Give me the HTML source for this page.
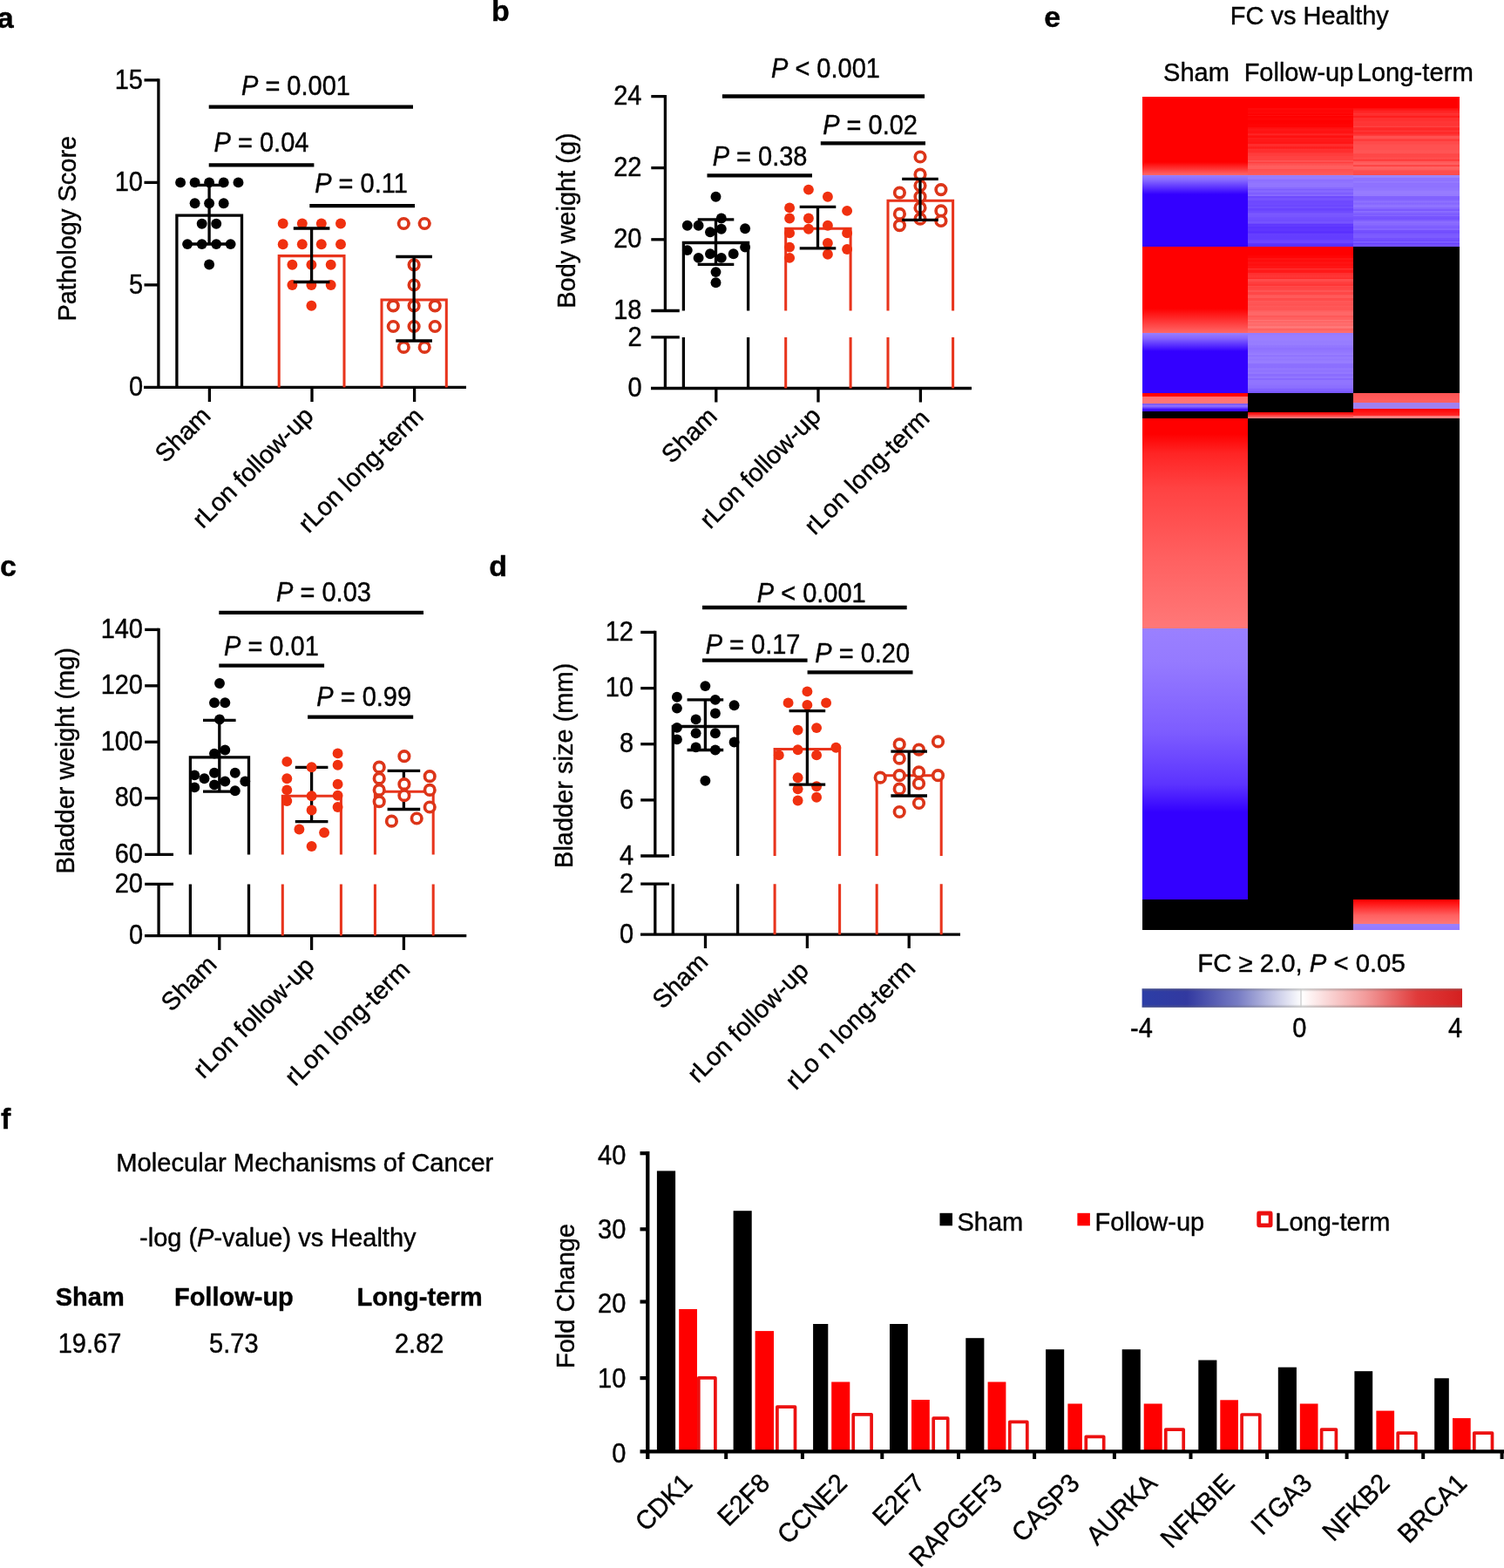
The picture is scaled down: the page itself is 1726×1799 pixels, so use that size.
<!DOCTYPE html>
<html lang="en">
<head>
<meta charset="utf-8">
<title>Figure</title>
<style>
html,body{margin:0;padding:0;background:#fff;}
body{width:1726px;height:1799px;overflow:hidden;}
svg{display:block;font-family:"Liberation Sans",sans-serif;fill:#000;}
text{stroke:#000;stroke-width:0.4px;stroke-linejoin:round;}
</style>
</head>
<body>
<svg width="1726" height="1799" viewBox="0 0 1726 1799">
<rect x="0" y="0" width="1726" height="1799" fill="#ffffff"/>
<text x="-3.3" y="32.0" font-size="34" text-anchor="start" font-weight="bold">a</text>
<text x="564.0" y="23.8" font-size="34" text-anchor="start" font-weight="bold">b</text>
<text x="0.0" y="660.8" font-size="34" text-anchor="start" font-weight="bold">c</text>
<text x="561.2" y="660.6" font-size="34" text-anchor="start" font-weight="bold">d</text>
<text x="1198.2" y="30.5" font-size="34" text-anchor="start" font-weight="bold">e</text>
<text x="1.0" y="1295.2" font-size="34" text-anchor="start" font-weight="bold">f</text>
<line x1="181.9" y1="90.2" x2="181.9" y2="444.4" stroke="#000" stroke-width="3.3" stroke-linecap="butt"/>
<line x1="165.0" y1="444.4" x2="535.0" y2="444.4" stroke="#000" stroke-width="3.3" stroke-linecap="butt"/>
<line x1="165.5" y1="91.9" x2="181.9" y2="91.9" stroke="#000" stroke-width="3.3" stroke-linecap="butt"/>
<text transform="translate(164.0 101.5) scale(1 1.05)" font-size="29" text-anchor="end">15</text>
<line x1="165.5" y1="209.4" x2="181.9" y2="209.4" stroke="#000" stroke-width="3.3" stroke-linecap="butt"/>
<text transform="translate(164.0 219.0) scale(1 1.05)" font-size="29" text-anchor="end">10</text>
<line x1="165.5" y1="326.9" x2="181.9" y2="326.9" stroke="#000" stroke-width="3.3" stroke-linecap="butt"/>
<text transform="translate(164.0 336.5) scale(1 1.05)" font-size="29" text-anchor="end">5</text>
<text transform="translate(164.0 454.0) scale(1 1.05)" font-size="29" text-anchor="end">0</text>
<line x1="240.4" y1="444.4" x2="240.4" y2="461.0" stroke="#000" stroke-width="3.3" stroke-linecap="butt"/>
<line x1="358.0" y1="444.4" x2="358.0" y2="461.0" stroke="#000" stroke-width="3.3" stroke-linecap="butt"/>
<line x1="475.6" y1="444.4" x2="475.6" y2="461.0" stroke="#000" stroke-width="3.3" stroke-linecap="butt"/>
<text x="87.4" y="262.2" font-size="29" text-anchor="middle" transform="rotate(-90 87.4 262.2)">Pathology Score</text>
<path d="M202.9,444.4 V247.2 H277.5 V444.4" fill="none" stroke="#000" stroke-width="3.3" stroke-linejoin="miter"/>
<path d="M320.2,444.4 V293.6 H395.0 V444.4" fill="none" stroke="#e8341c" stroke-width="3.05" stroke-linejoin="miter"/>
<path d="M438.0,444.4 V343.9 H512.3 V444.4" fill="none" stroke="#e8341c" stroke-width="3.05" stroke-linejoin="miter"/>
<circle cx="207.1" cy="209.4" r="5.95" fill="#000"/>
<circle cx="223.6" cy="209.4" r="5.95" fill="#000"/>
<circle cx="240.1" cy="209.4" r="5.95" fill="#000"/>
<circle cx="256.7" cy="209.4" r="5.95" fill="#000"/>
<circle cx="273.5" cy="209.4" r="5.95" fill="#000"/>
<circle cx="223.6" cy="233.3" r="5.95" fill="#000"/>
<circle cx="240.1" cy="233.3" r="5.95" fill="#000"/>
<circle cx="256.7" cy="233.3" r="5.95" fill="#000"/>
<circle cx="231.7" cy="256.7" r="5.95" fill="#000"/>
<circle cx="248.2" cy="256.7" r="5.95" fill="#000"/>
<circle cx="215.1" cy="280.1" r="5.95" fill="#000"/>
<circle cx="231.7" cy="280.1" r="5.95" fill="#000"/>
<circle cx="248.2" cy="280.1" r="5.95" fill="#000"/>
<circle cx="264.6" cy="280.1" r="5.95" fill="#000"/>
<circle cx="240.1" cy="303.5" r="5.95" fill="#000"/>
<circle cx="324.7" cy="256.5" r="5.95" fill="#f0300f"/>
<circle cx="346.8" cy="256.5" r="5.95" fill="#f0300f"/>
<circle cx="368.8" cy="256.5" r="5.95" fill="#f0300f"/>
<circle cx="391.0" cy="256.5" r="5.95" fill="#f0300f"/>
<circle cx="324.7" cy="280.2" r="5.95" fill="#f0300f"/>
<circle cx="346.8" cy="280.2" r="5.95" fill="#f0300f"/>
<circle cx="368.8" cy="280.2" r="5.95" fill="#f0300f"/>
<circle cx="391.0" cy="280.2" r="5.95" fill="#f0300f"/>
<circle cx="335.4" cy="303.8" r="5.95" fill="#f0300f"/>
<circle cx="357.4" cy="303.8" r="5.95" fill="#f0300f"/>
<circle cx="379.7" cy="303.8" r="5.95" fill="#f0300f"/>
<circle cx="335.4" cy="327.0" r="5.95" fill="#f0300f"/>
<circle cx="357.4" cy="327.0" r="5.95" fill="#f0300f"/>
<circle cx="379.7" cy="327.0" r="5.95" fill="#f0300f"/>
<circle cx="357.4" cy="350.8" r="5.95" fill="#f0300f"/>
<circle cx="463.3" cy="256.5" r="5.75" fill="#fff" stroke="#dc3519" stroke-width="3.7"/>
<circle cx="487.2" cy="256.5" r="5.75" fill="#fff" stroke="#dc3519" stroke-width="3.7"/>
<circle cx="475.1" cy="303.8" r="5.75" fill="#fff" stroke="#dc3519" stroke-width="3.7"/>
<circle cx="475.1" cy="327.0" r="5.75" fill="#fff" stroke="#dc3519" stroke-width="3.7"/>
<circle cx="451.3" cy="350.8" r="5.75" fill="#fff" stroke="#dc3519" stroke-width="3.7"/>
<circle cx="475.1" cy="350.8" r="5.75" fill="#fff" stroke="#dc3519" stroke-width="3.7"/>
<circle cx="499.2" cy="350.8" r="5.75" fill="#fff" stroke="#dc3519" stroke-width="3.7"/>
<circle cx="451.3" cy="374.5" r="5.75" fill="#fff" stroke="#dc3519" stroke-width="3.7"/>
<circle cx="475.1" cy="374.5" r="5.75" fill="#fff" stroke="#dc3519" stroke-width="3.7"/>
<circle cx="499.2" cy="374.5" r="5.75" fill="#fff" stroke="#dc3519" stroke-width="3.7"/>
<circle cx="463.3" cy="398.4" r="5.75" fill="#fff" stroke="#dc3519" stroke-width="3.7"/>
<circle cx="487.2" cy="398.4" r="5.75" fill="#fff" stroke="#dc3519" stroke-width="3.7"/>
<line x1="240.1" y1="212.4" x2="240.1" y2="280.0" stroke="#000" stroke-width="3.3" stroke-linecap="butt"/>
<line x1="219.3" y1="212.4" x2="260.9" y2="212.4" stroke="#000" stroke-width="3.3" stroke-linecap="butt"/>
<line x1="219.3" y1="280.0" x2="260.9" y2="280.0" stroke="#000" stroke-width="3.3" stroke-linecap="butt"/>
<line x1="357.6" y1="262.0" x2="357.6" y2="323.5" stroke="#000" stroke-width="3.3" stroke-linecap="butt"/>
<line x1="336.8" y1="262.0" x2="378.4" y2="262.0" stroke="#000" stroke-width="3.3" stroke-linecap="butt"/>
<line x1="336.8" y1="323.5" x2="378.4" y2="323.5" stroke="#000" stroke-width="3.3" stroke-linecap="butt"/>
<line x1="475.1" y1="294.5" x2="475.1" y2="391.0" stroke="#000" stroke-width="3.3" stroke-linecap="butt"/>
<line x1="454.3" y1="294.5" x2="495.9" y2="294.5" stroke="#000" stroke-width="3.3" stroke-linecap="butt"/>
<line x1="454.3" y1="391.0" x2="495.9" y2="391.0" stroke="#000" stroke-width="3.3" stroke-linecap="butt"/>
<line x1="239.7" y1="122.6" x2="474.0" y2="122.6" stroke="#000" stroke-width="4.3" stroke-linecap="butt"/>
<line x1="239.7" y1="189.3" x2="360.4" y2="189.3" stroke="#000" stroke-width="4.3" stroke-linecap="butt"/>
<line x1="355.3" y1="236.1" x2="476.0" y2="236.1" stroke="#000" stroke-width="4.3" stroke-linecap="butt"/>
<text transform="translate(277.0 109.0) scale(1 1.05)" font-size="29" text-anchor="start"><tspan font-style="italic">P</tspan> = 0.001</text>
<text transform="translate(245.6 174.0) scale(1 1.05)" font-size="29" text-anchor="start"><tspan font-style="italic">P</tspan> = 0.04</text>
<text transform="translate(361.2 221.0) scale(1 1.05)" font-size="29" text-anchor="start"><tspan font-style="italic">P</tspan> = 0.11</text>
<text x="243.4" y="478.6" font-size="29" text-anchor="end" transform="rotate(-45 243.4 478.6)">Sham</text>
<text x="361.5" y="478.8" font-size="29" text-anchor="end" transform="rotate(-45 361.5 478.8)">rLon follow-up</text>
<text x="487.6" y="479.3" font-size="29" text-anchor="end" transform="rotate(-45 487.6 479.3)">rLon long-term</text>
<line x1="763.4" y1="108.9" x2="763.4" y2="356.5" stroke="#000" stroke-width="3.3" stroke-linecap="butt"/>
<line x1="763.4" y1="386.9" x2="763.4" y2="445.5" stroke="#000" stroke-width="3.3" stroke-linecap="butt"/>
<line x1="747.0" y1="445.5" x2="1115.0" y2="445.5" stroke="#000" stroke-width="3.3" stroke-linecap="butt"/>
<line x1="747.3" y1="110.6" x2="763.4" y2="110.6" stroke="#000" stroke-width="3.3" stroke-linecap="butt"/>
<line x1="747.3" y1="192.6" x2="763.4" y2="192.6" stroke="#000" stroke-width="3.3" stroke-linecap="butt"/>
<line x1="747.3" y1="274.8" x2="763.4" y2="274.8" stroke="#000" stroke-width="3.3" stroke-linecap="butt"/>
<line x1="747.3" y1="356.5" x2="779.8" y2="356.5" stroke="#000" stroke-width="3.3" stroke-linecap="butt"/>
<line x1="747.3" y1="386.9" x2="779.8" y2="386.9" stroke="#000" stroke-width="3.3" stroke-linecap="butt"/>
<text transform="translate(736.5 120.2) scale(1 1.05)" font-size="29" text-anchor="end">24</text>
<text transform="translate(736.5 202.2) scale(1 1.05)" font-size="29" text-anchor="end">22</text>
<text transform="translate(736.5 284.4) scale(1 1.05)" font-size="29" text-anchor="end">20</text>
<text transform="translate(736.5 366.1) scale(1 1.05)" font-size="29" text-anchor="end">18</text>
<text transform="translate(736.5 396.5) scale(1 1.05)" font-size="29" text-anchor="end">2</text>
<text transform="translate(736.5 455.1) scale(1 1.05)" font-size="29" text-anchor="end">0</text>
<line x1="821.8" y1="445.5" x2="821.8" y2="461.5" stroke="#000" stroke-width="3.3" stroke-linecap="butt"/>
<line x1="939.0" y1="445.5" x2="939.0" y2="461.5" stroke="#000" stroke-width="3.3" stroke-linecap="butt"/>
<line x1="1056.4" y1="445.5" x2="1056.4" y2="461.5" stroke="#000" stroke-width="3.3" stroke-linecap="butt"/>
<text x="659.5" y="253.0" font-size="29" text-anchor="middle" transform="rotate(-90 659.5 253.0)">Body weight (g)</text>
<path d="M784.4,356.5 V278.5 H858.6 V356.5 M784.4,386.9 V445.5 M858.6,386.9 V445.5" fill="none" stroke="#000" stroke-width="3.3" stroke-linejoin="miter"/>
<path d="M901.7,356.5 V262.3 H976.1 V356.5 M901.7,386.9 V445.5 M976.1,386.9 V445.5" fill="none" stroke="#e8341c" stroke-width="3.05" stroke-linejoin="miter"/>
<path d="M1019.0,356.5 V230.3 H1093.6 V356.5 M1019.0,386.9 V445.5 M1093.6,386.9 V445.5" fill="none" stroke="#e8341c" stroke-width="3.05" stroke-linejoin="miter"/>
<circle cx="821.5" cy="225.7" r="5.95" fill="#000"/>
<circle cx="827.8" cy="250.5" r="5.95" fill="#000"/>
<circle cx="788.8" cy="258.8" r="5.95" fill="#000"/>
<circle cx="801.6" cy="258.8" r="5.95" fill="#000"/>
<circle cx="855.1" cy="262.3" r="5.95" fill="#000"/>
<circle cx="815.0" cy="266.3" r="5.95" fill="#000"/>
<circle cx="827.8" cy="262.8" r="5.95" fill="#000"/>
<circle cx="855.1" cy="283.6" r="5.95" fill="#000"/>
<circle cx="788.8" cy="287.1" r="5.95" fill="#000"/>
<circle cx="815.0" cy="291.3" r="5.95" fill="#000"/>
<circle cx="841.7" cy="291.3" r="5.95" fill="#000"/>
<circle cx="801.6" cy="295.9" r="5.95" fill="#000"/>
<circle cx="827.8" cy="295.9" r="5.95" fill="#000"/>
<circle cx="821.5" cy="312.1" r="5.95" fill="#000"/>
<circle cx="821.5" cy="324.2" r="5.95" fill="#000"/>
<circle cx="927.9" cy="217.6" r="5.95" fill="#f0300f"/>
<circle cx="949.9" cy="225.7" r="5.95" fill="#f0300f"/>
<circle cx="906.1" cy="238.4" r="5.95" fill="#f0300f"/>
<circle cx="972.1" cy="241.9" r="5.95" fill="#f0300f"/>
<circle cx="906.1" cy="250.5" r="5.95" fill="#f0300f"/>
<circle cx="927.9" cy="250.5" r="5.95" fill="#f0300f"/>
<circle cx="949.9" cy="258.8" r="5.95" fill="#f0300f"/>
<circle cx="927.9" cy="262.8" r="5.95" fill="#f0300f"/>
<circle cx="906.1" cy="267.4" r="5.95" fill="#f0300f"/>
<circle cx="972.1" cy="267.4" r="5.95" fill="#f0300f"/>
<circle cx="949.9" cy="279.0" r="5.95" fill="#f0300f"/>
<circle cx="906.1" cy="283.6" r="5.95" fill="#f0300f"/>
<circle cx="972.1" cy="286.0" r="5.95" fill="#f0300f"/>
<circle cx="949.9" cy="291.7" r="5.95" fill="#f0300f"/>
<circle cx="906.1" cy="295.9" r="5.95" fill="#f0300f"/>
<circle cx="1056.0" cy="180.0" r="5.75" fill="#fff" stroke="#dc3519" stroke-width="3.7"/>
<circle cx="1056.0" cy="200.2" r="5.75" fill="#fff" stroke="#dc3519" stroke-width="3.7"/>
<circle cx="1032.4" cy="221.1" r="5.75" fill="#fff" stroke="#dc3519" stroke-width="3.7"/>
<circle cx="1079.9" cy="217.6" r="5.75" fill="#fff" stroke="#dc3519" stroke-width="3.7"/>
<circle cx="1056.0" cy="213.0" r="5.75" fill="#fff" stroke="#dc3519" stroke-width="3.7"/>
<circle cx="1056.0" cy="225.7" r="5.75" fill="#fff" stroke="#dc3519" stroke-width="3.7"/>
<circle cx="1056.0" cy="238.4" r="5.75" fill="#fff" stroke="#dc3519" stroke-width="3.7"/>
<circle cx="1032.4" cy="245.4" r="5.75" fill="#fff" stroke="#dc3519" stroke-width="3.7"/>
<circle cx="1079.9" cy="241.9" r="5.75" fill="#fff" stroke="#dc3519" stroke-width="3.7"/>
<circle cx="1056.0" cy="251.2" r="5.75" fill="#fff" stroke="#dc3519" stroke-width="3.7"/>
<circle cx="1079.9" cy="253.5" r="5.75" fill="#fff" stroke="#dc3519" stroke-width="3.7"/>
<circle cx="1032.4" cy="258.6" r="5.75" fill="#fff" stroke="#dc3519" stroke-width="3.7"/>
<line x1="821.5" y1="251.9" x2="821.5" y2="303.3" stroke="#000" stroke-width="3.3" stroke-linecap="butt"/>
<line x1="800.7" y1="251.9" x2="842.3" y2="251.9" stroke="#000" stroke-width="3.3" stroke-linecap="butt"/>
<line x1="800.7" y1="303.3" x2="842.3" y2="303.3" stroke="#000" stroke-width="3.3" stroke-linecap="butt"/>
<line x1="938.5" y1="237.3" x2="938.5" y2="284.8" stroke="#000" stroke-width="3.3" stroke-linecap="butt"/>
<line x1="917.7" y1="237.3" x2="959.3" y2="237.3" stroke="#000" stroke-width="3.3" stroke-linecap="butt"/>
<line x1="917.7" y1="284.8" x2="959.3" y2="284.8" stroke="#000" stroke-width="3.3" stroke-linecap="butt"/>
<line x1="1056.0" y1="205.3" x2="1056.0" y2="252.4" stroke="#000" stroke-width="3.3" stroke-linecap="butt"/>
<line x1="1035.2" y1="205.3" x2="1076.8" y2="205.3" stroke="#000" stroke-width="3.3" stroke-linecap="butt"/>
<line x1="1035.2" y1="252.4" x2="1076.8" y2="252.4" stroke="#000" stroke-width="3.3" stroke-linecap="butt"/>
<line x1="828.9" y1="110.5" x2="1061.1" y2="110.5" stroke="#000" stroke-width="4.3" stroke-linecap="butt"/>
<line x1="941.8" y1="164.3" x2="1062.0" y2="164.3" stroke="#000" stroke-width="4.3" stroke-linecap="butt"/>
<line x1="811.5" y1="201.4" x2="932.0" y2="201.4" stroke="#000" stroke-width="4.3" stroke-linecap="butt"/>
<text transform="translate(885.0 89.0) scale(1 1.05)" font-size="29" text-anchor="start"><tspan font-style="italic">P</tspan> &lt; 0.001</text>
<text transform="translate(944.2 154.0) scale(1 1.05)" font-size="29" text-anchor="start"><tspan font-style="italic">P</tspan> = 0.02</text>
<text transform="translate(817.7 190.0) scale(1 1.05)" font-size="29" text-anchor="start"><tspan font-style="italic">P</tspan> = 0.38</text>
<text x="824.7" y="479.4" font-size="29" text-anchor="end" transform="rotate(-45 824.7 479.4)">Sham</text>
<text x="943.7" y="479.2" font-size="29" text-anchor="end" transform="rotate(-45 943.7 479.2)">rLon follow-up</text>
<text x="1068.3" y="481.6" font-size="29" text-anchor="end" transform="rotate(-45 1068.3 481.6)">rLon long-term</text>
<line x1="182.1" y1="720.8" x2="182.1" y2="980.4" stroke="#000" stroke-width="3.3" stroke-linecap="butt"/>
<line x1="182.1" y1="1014.4" x2="182.1" y2="1073.6" stroke="#000" stroke-width="3.3" stroke-linecap="butt"/>
<line x1="166.0" y1="1073.6" x2="535.3" y2="1073.6" stroke="#000" stroke-width="3.3" stroke-linecap="butt"/>
<line x1="166.2" y1="722.4" x2="182.1" y2="722.4" stroke="#000" stroke-width="3.3" stroke-linecap="butt"/>
<line x1="166.2" y1="786.8" x2="182.1" y2="786.8" stroke="#000" stroke-width="3.3" stroke-linecap="butt"/>
<line x1="166.2" y1="851.3" x2="182.1" y2="851.3" stroke="#000" stroke-width="3.3" stroke-linecap="butt"/>
<line x1="166.2" y1="915.8" x2="182.1" y2="915.8" stroke="#000" stroke-width="3.3" stroke-linecap="butt"/>
<line x1="166.2" y1="980.4" x2="199.0" y2="980.4" stroke="#000" stroke-width="3.3" stroke-linecap="butt"/>
<line x1="166.2" y1="1014.4" x2="199.0" y2="1014.4" stroke="#000" stroke-width="3.3" stroke-linecap="butt"/>
<text transform="translate(164.0 732.0) scale(1 1.05)" font-size="29" text-anchor="end">140</text>
<text transform="translate(164.0 796.4) scale(1 1.05)" font-size="29" text-anchor="end">120</text>
<text transform="translate(164.0 860.9) scale(1 1.05)" font-size="29" text-anchor="end">100</text>
<text transform="translate(164.0 925.4) scale(1 1.05)" font-size="29" text-anchor="end">80</text>
<text transform="translate(164.0 990.0) scale(1 1.05)" font-size="29" text-anchor="end">60</text>
<text transform="translate(164.0 1024.0) scale(1 1.05)" font-size="29" text-anchor="end">20</text>
<text transform="translate(164.0 1083.2) scale(1 1.05)" font-size="29" text-anchor="end">0</text>
<line x1="251.8" y1="1073.6" x2="251.8" y2="1090.0" stroke="#000" stroke-width="3.3" stroke-linecap="butt"/>
<line x1="357.6" y1="1073.6" x2="357.6" y2="1090.0" stroke="#000" stroke-width="3.3" stroke-linecap="butt"/>
<line x1="463.4" y1="1073.6" x2="463.4" y2="1090.0" stroke="#000" stroke-width="3.3" stroke-linecap="butt"/>
<text x="85.2" y="872.7" font-size="29" text-anchor="middle" transform="rotate(-90 85.2 872.7)">Bladder weight (mg)</text>
<path d="M218.4,980.4 V868.8 H285.5 V980.4 M218.4,1014.4 V1073.6 M285.5,1014.4 V1073.6" fill="none" stroke="#000" stroke-width="3.3" stroke-linejoin="miter"/>
<path d="M324.3,980.4 V913.2 H391.4 V980.4 M324.3,1014.4 V1073.6 M391.4,1014.4 V1073.6" fill="none" stroke="#e8341c" stroke-width="3.05" stroke-linejoin="miter"/>
<path d="M430.4,980.4 V908.2 H497.2 V980.4 M430.4,1014.4 V1073.6 M497.2,1014.4 V1073.6" fill="none" stroke="#e8341c" stroke-width="3.05" stroke-linejoin="miter"/>
<line x1="251.8" y1="826.4" x2="251.8" y2="908.2" stroke="#000" stroke-width="3.3" stroke-linecap="butt"/>
<line x1="233.0" y1="826.4" x2="270.6" y2="826.4" stroke="#000" stroke-width="3.3" stroke-linecap="butt"/>
<line x1="233.0" y1="908.2" x2="270.6" y2="908.2" stroke="#000" stroke-width="3.3" stroke-linecap="butt"/>
<line x1="357.6" y1="880.4" x2="357.6" y2="942.7" stroke="#000" stroke-width="3.3" stroke-linecap="butt"/>
<line x1="338.8" y1="880.4" x2="376.4" y2="880.4" stroke="#000" stroke-width="3.3" stroke-linecap="butt"/>
<line x1="338.8" y1="942.7" x2="376.4" y2="942.7" stroke="#000" stroke-width="3.3" stroke-linecap="butt"/>
<line x1="463.4" y1="884.4" x2="463.4" y2="928.5" stroke="#000" stroke-width="3.3" stroke-linecap="butt"/>
<line x1="444.6" y1="884.4" x2="482.2" y2="884.4" stroke="#000" stroke-width="3.3" stroke-linecap="butt"/>
<line x1="444.6" y1="928.5" x2="482.2" y2="928.5" stroke="#000" stroke-width="3.3" stroke-linecap="butt"/>
<circle cx="252.0" cy="784.0" r="5.95" fill="#000"/>
<circle cx="246.0" cy="806.2" r="5.95" fill="#000"/>
<circle cx="258.3" cy="806.2" r="5.95" fill="#000"/>
<circle cx="252.0" cy="825.4" r="5.95" fill="#000"/>
<circle cx="258.3" cy="860.5" r="5.95" fill="#000"/>
<circle cx="246.0" cy="864.6" r="5.95" fill="#000"/>
<circle cx="246.0" cy="886.8" r="5.95" fill="#000"/>
<circle cx="269.8" cy="886.8" r="5.95" fill="#000"/>
<circle cx="223.3" cy="889.4" r="5.95" fill="#000"/>
<circle cx="234.5" cy="893.2" r="5.95" fill="#000"/>
<circle cx="258.3" cy="896.5" r="5.95" fill="#000"/>
<circle cx="281.3" cy="896.5" r="5.95" fill="#000"/>
<circle cx="246.0" cy="900.4" r="5.95" fill="#000"/>
<circle cx="223.3" cy="903.4" r="5.95" fill="#000"/>
<circle cx="269.8" cy="907.3" r="5.95" fill="#000"/>
<circle cx="387.6" cy="864.4" r="5.95" fill="#f0300f"/>
<circle cx="329.3" cy="873.9" r="5.95" fill="#f0300f"/>
<circle cx="387.6" cy="877.7" r="5.95" fill="#f0300f"/>
<circle cx="357.6" cy="880.2" r="5.95" fill="#f0300f"/>
<circle cx="329.3" cy="893.2" r="5.95" fill="#f0300f"/>
<circle cx="387.6" cy="899.7" r="5.95" fill="#f0300f"/>
<circle cx="329.3" cy="906.4" r="5.95" fill="#f0300f"/>
<circle cx="387.6" cy="912.7" r="5.95" fill="#f0300f"/>
<circle cx="357.6" cy="913.2" r="5.95" fill="#f0300f"/>
<circle cx="329.3" cy="919.0" r="5.95" fill="#f0300f"/>
<circle cx="387.6" cy="926.0" r="5.95" fill="#f0300f"/>
<circle cx="357.6" cy="929.5" r="5.95" fill="#f0300f"/>
<circle cx="343.4" cy="951.5" r="5.95" fill="#f0300f"/>
<circle cx="372.1" cy="955.2" r="5.95" fill="#f0300f"/>
<circle cx="357.6" cy="971.0" r="5.95" fill="#f0300f"/>
<circle cx="463.9" cy="867.7" r="5.75" fill="#fff" stroke="#dc3519" stroke-width="3.7"/>
<circle cx="435.2" cy="880.2" r="5.75" fill="#fff" stroke="#dc3519" stroke-width="3.7"/>
<circle cx="493.2" cy="890.7" r="5.75" fill="#fff" stroke="#dc3519" stroke-width="3.7"/>
<circle cx="435.2" cy="893.2" r="5.75" fill="#fff" stroke="#dc3519" stroke-width="3.7"/>
<circle cx="463.9" cy="899.7" r="5.75" fill="#fff" stroke="#dc3519" stroke-width="3.7"/>
<circle cx="435.2" cy="906.4" r="5.75" fill="#fff" stroke="#dc3519" stroke-width="3.7"/>
<circle cx="493.2" cy="906.4" r="5.75" fill="#fff" stroke="#dc3519" stroke-width="3.7"/>
<circle cx="463.9" cy="912.7" r="5.75" fill="#fff" stroke="#dc3519" stroke-width="3.7"/>
<circle cx="435.2" cy="919.7" r="5.75" fill="#fff" stroke="#dc3519" stroke-width="3.7"/>
<circle cx="493.2" cy="926.0" r="5.75" fill="#fff" stroke="#dc3519" stroke-width="3.7"/>
<circle cx="478.2" cy="939.0" r="5.75" fill="#fff" stroke="#dc3519" stroke-width="3.7"/>
<circle cx="449.4" cy="942.2" r="5.75" fill="#fff" stroke="#dc3519" stroke-width="3.7"/>
<line x1="251.3" y1="702.8" x2="486.0" y2="702.8" stroke="#000" stroke-width="4.3" stroke-linecap="butt"/>
<line x1="251.3" y1="763.6" x2="372.1" y2="763.6" stroke="#000" stroke-width="4.3" stroke-linecap="butt"/>
<line x1="353.1" y1="822.6" x2="474.2" y2="822.6" stroke="#000" stroke-width="4.3" stroke-linecap="butt"/>
<text transform="translate(317.1 690.0) scale(1 1.05)" font-size="29" text-anchor="start"><tspan font-style="italic">P</tspan> = 0.03</text>
<text transform="translate(257.0 752.0) scale(1 1.05)" font-size="29" text-anchor="start"><tspan font-style="italic">P</tspan> = 0.01</text>
<text transform="translate(363.3 810.0) scale(1 1.05)" font-size="29" text-anchor="start"><tspan font-style="italic">P</tspan> = 0.99</text>
<text x="250.3" y="1108.2" font-size="29" text-anchor="end" transform="rotate(-45 250.3 1108.2)">Sham</text>
<text x="362.4" y="1110.0" font-size="29" text-anchor="end" transform="rotate(-45 362.4 1110.0)">rLon follow-up</text>
<text x="472.0" y="1114.0" font-size="29" text-anchor="end" transform="rotate(-45 472.0 1114.0)">rLon long-term</text>
<line x1="751.8" y1="723.8" x2="751.8" y2="982.0" stroke="#000" stroke-width="3.3" stroke-linecap="butt"/>
<line x1="751.8" y1="1014.2" x2="751.8" y2="1072.2" stroke="#000" stroke-width="3.3" stroke-linecap="butt"/>
<line x1="735.0" y1="1072.2" x2="1102.0" y2="1072.2" stroke="#000" stroke-width="3.3" stroke-linecap="butt"/>
<line x1="735.2" y1="725.4" x2="751.8" y2="725.4" stroke="#000" stroke-width="3.3" stroke-linecap="butt"/>
<line x1="735.2" y1="789.6" x2="751.8" y2="789.6" stroke="#000" stroke-width="3.3" stroke-linecap="butt"/>
<line x1="735.2" y1="853.7" x2="751.8" y2="853.7" stroke="#000" stroke-width="3.3" stroke-linecap="butt"/>
<line x1="735.2" y1="917.9" x2="751.8" y2="917.9" stroke="#000" stroke-width="3.3" stroke-linecap="butt"/>
<line x1="735.2" y1="982.0" x2="767.9" y2="982.0" stroke="#000" stroke-width="3.3" stroke-linecap="butt"/>
<line x1="735.2" y1="1014.2" x2="767.9" y2="1014.2" stroke="#000" stroke-width="3.3" stroke-linecap="butt"/>
<text transform="translate(727.0 735.0) scale(1 1.05)" font-size="29" text-anchor="end">12</text>
<text transform="translate(727.0 799.2) scale(1 1.05)" font-size="29" text-anchor="end">10</text>
<text transform="translate(727.0 863.3) scale(1 1.05)" font-size="29" text-anchor="end">8</text>
<text transform="translate(727.0 927.5) scale(1 1.05)" font-size="29" text-anchor="end">6</text>
<text transform="translate(727.0 991.6) scale(1 1.05)" font-size="29" text-anchor="end">4</text>
<text transform="translate(727.0 1023.8) scale(1 1.05)" font-size="29" text-anchor="end">2</text>
<text transform="translate(727.0 1081.8) scale(1 1.05)" font-size="29" text-anchor="end">0</text>
<line x1="809.5" y1="1072.2" x2="809.5" y2="1088.0" stroke="#000" stroke-width="3.3" stroke-linecap="butt"/>
<line x1="926.4" y1="1072.2" x2="926.4" y2="1088.0" stroke="#000" stroke-width="3.3" stroke-linecap="butt"/>
<line x1="1043.2" y1="1072.2" x2="1043.2" y2="1088.0" stroke="#000" stroke-width="3.3" stroke-linecap="butt"/>
<text x="656.8" y="878.3" font-size="29" text-anchor="middle" transform="rotate(-90 656.8 878.3)">Bladder size (mm)</text>
<path d="M772.3,982.0 V833.5 H846.6 V982.0 M772.3,1014.2 V1072.2 M846.6,1014.2 V1072.2" fill="none" stroke="#000" stroke-width="3.3" stroke-linejoin="miter"/>
<path d="M889.1,982.0 V859.5 H963.6 V982.0 M889.1,1014.2 V1072.2 M963.6,1014.2 V1072.2" fill="none" stroke="#e8341c" stroke-width="3.05" stroke-linejoin="miter"/>
<path d="M1006.2,982.0 V889.7 H1080.2 V982.0 M1006.2,1014.2 V1072.2 M1080.2,1014.2 V1072.2" fill="none" stroke="#e8341c" stroke-width="3.05" stroke-linejoin="miter"/>
<circle cx="809.4" cy="787.1" r="5.95" fill="#000"/>
<circle cx="776.9" cy="799.8" r="5.95" fill="#000"/>
<circle cx="820.9" cy="802.9" r="5.95" fill="#000"/>
<circle cx="842.6" cy="809.3" r="5.95" fill="#000"/>
<circle cx="776.9" cy="812.6" r="5.95" fill="#000"/>
<circle cx="820.9" cy="818.5" r="5.95" fill="#000"/>
<circle cx="798.6" cy="825.4" r="5.95" fill="#000"/>
<circle cx="776.9" cy="834.9" r="5.95" fill="#000"/>
<circle cx="798.6" cy="841.3" r="5.95" fill="#000"/>
<circle cx="820.9" cy="841.3" r="5.95" fill="#000"/>
<circle cx="776.9" cy="848.4" r="5.95" fill="#000"/>
<circle cx="842.6" cy="851.5" r="5.95" fill="#000"/>
<circle cx="798.6" cy="857.4" r="5.95" fill="#000"/>
<circle cx="820.9" cy="860.5" r="5.95" fill="#000"/>
<circle cx="809.4" cy="895.8" r="5.95" fill="#000"/>
<circle cx="926.4" cy="793.4" r="5.95" fill="#f0300f"/>
<circle cx="904.6" cy="806.4" r="5.95" fill="#f0300f"/>
<circle cx="948.1" cy="806.4" r="5.95" fill="#f0300f"/>
<circle cx="926.4" cy="808.9" r="5.95" fill="#f0300f"/>
<circle cx="915.6" cy="837.6" r="5.95" fill="#f0300f"/>
<circle cx="937.1" cy="835.1" r="5.95" fill="#f0300f"/>
<circle cx="959.4" cy="857.7" r="5.95" fill="#f0300f"/>
<circle cx="915.6" cy="860.2" r="5.95" fill="#f0300f"/>
<circle cx="893.8" cy="866.4" r="5.95" fill="#f0300f"/>
<circle cx="937.1" cy="866.4" r="5.95" fill="#f0300f"/>
<circle cx="915.6" cy="892.2" r="5.95" fill="#f0300f"/>
<circle cx="937.1" cy="902.2" r="5.95" fill="#f0300f"/>
<circle cx="915.6" cy="905.2" r="5.95" fill="#f0300f"/>
<circle cx="937.1" cy="914.7" r="5.95" fill="#f0300f"/>
<circle cx="915.6" cy="918.5" r="5.95" fill="#f0300f"/>
<circle cx="1076.5" cy="850.9" r="5.75" fill="#fff" stroke="#dc3519" stroke-width="3.7"/>
<circle cx="1032.2" cy="853.9" r="5.75" fill="#fff" stroke="#dc3519" stroke-width="3.7"/>
<circle cx="1054.5" cy="860.2" r="5.75" fill="#fff" stroke="#dc3519" stroke-width="3.7"/>
<circle cx="1032.2" cy="870.2" r="5.75" fill="#fff" stroke="#dc3519" stroke-width="3.7"/>
<circle cx="1054.5" cy="885.9" r="5.75" fill="#fff" stroke="#dc3519" stroke-width="3.7"/>
<circle cx="1010.2" cy="892.2" r="5.75" fill="#fff" stroke="#dc3519" stroke-width="3.7"/>
<circle cx="1032.2" cy="889.7" r="5.75" fill="#fff" stroke="#dc3519" stroke-width="3.7"/>
<circle cx="1076.5" cy="889.7" r="5.75" fill="#fff" stroke="#dc3519" stroke-width="3.7"/>
<circle cx="1054.5" cy="898.9" r="5.75" fill="#fff" stroke="#dc3519" stroke-width="3.7"/>
<circle cx="1032.2" cy="905.2" r="5.75" fill="#fff" stroke="#dc3519" stroke-width="3.7"/>
<circle cx="1054.5" cy="921.5" r="5.75" fill="#fff" stroke="#dc3519" stroke-width="3.7"/>
<circle cx="1032.2" cy="931.5" r="5.75" fill="#fff" stroke="#dc3519" stroke-width="3.7"/>
<line x1="809.4" y1="802.9" x2="809.4" y2="860.5" stroke="#000" stroke-width="3.3" stroke-linecap="butt"/>
<line x1="788.6" y1="802.9" x2="830.2" y2="802.9" stroke="#000" stroke-width="3.3" stroke-linecap="butt"/>
<line x1="788.6" y1="860.5" x2="830.2" y2="860.5" stroke="#000" stroke-width="3.3" stroke-linecap="butt"/>
<line x1="926.4" y1="815.6" x2="926.4" y2="900.2" stroke="#000" stroke-width="3.3" stroke-linecap="butt"/>
<line x1="905.6" y1="815.6" x2="947.2" y2="815.6" stroke="#000" stroke-width="3.3" stroke-linecap="butt"/>
<line x1="905.6" y1="900.2" x2="947.2" y2="900.2" stroke="#000" stroke-width="3.3" stroke-linecap="butt"/>
<line x1="1043.2" y1="862.2" x2="1043.2" y2="913.0" stroke="#000" stroke-width="3.3" stroke-linecap="butt"/>
<line x1="1022.4" y1="862.2" x2="1064.0" y2="862.2" stroke="#000" stroke-width="3.3" stroke-linecap="butt"/>
<line x1="1022.4" y1="913.0" x2="1064.0" y2="913.0" stroke="#000" stroke-width="3.3" stroke-linecap="butt"/>
<line x1="806.0" y1="697.0" x2="1040.7" y2="697.0" stroke="#000" stroke-width="4.3" stroke-linecap="butt"/>
<line x1="806.0" y1="757.6" x2="926.6" y2="757.6" stroke="#000" stroke-width="4.3" stroke-linecap="butt"/>
<line x1="926.6" y1="771.3" x2="1047.5" y2="771.3" stroke="#000" stroke-width="4.3" stroke-linecap="butt"/>
<text transform="translate(868.8 691.0) scale(1 1.05)" font-size="29" text-anchor="start"><tspan font-style="italic">P</tspan> &lt; 0.001</text>
<text transform="translate(809.7 750.0) scale(1 1.05)" font-size="29" text-anchor="start"><tspan font-style="italic">P</tspan> = 0.17</text>
<text transform="translate(935.3 760.0) scale(1 1.05)" font-size="29" text-anchor="start"><tspan font-style="italic">P</tspan> = 0.20</text>
<text x="814.1" y="1105.2" font-size="29" text-anchor="end" transform="rotate(-45 814.1 1105.2)">Sham</text>
<text x="929.6" y="1115.0" font-size="29" text-anchor="end" transform="rotate(-45 929.6 1115.0)">rLon follow-up</text>
<text x="1052.2" y="1112.6" font-size="29" text-anchor="end" transform="rotate(-45 1052.2 1112.6)">rLo n long-term</text>
<text x="1502.8" y="28.2" font-size="29" text-anchor="middle">FC vs Healthy</text>
<text x="1373.0" y="93.2" font-size="29" text-anchor="middle">Sham</text>
<text x="1490.5" y="93.2" font-size="29" text-anchor="middle">Follow-up</text>
<text x="1624.2" y="93.2" font-size="29.3" text-anchor="middle">Long-term</text>
<linearGradient id="gs" x1="0" y1="0" x2="0" y2="1"><stop offset="0.0000" stop-color="#ff0000"/><stop offset="0.0785" stop-color="#ff0000"/><stop offset="0.0785" stop-color="#ff0000"/><stop offset="0.0940" stop-color="#ff6666"/><stop offset="0.0940" stop-color="#9a80ff"/><stop offset="0.1005" stop-color="#8566ff"/><stop offset="0.1005" stop-color="#8566ff"/><stop offset="0.1172" stop-color="#3300ff"/><stop offset="0.1172" stop-color="#3300ff"/><stop offset="0.1804" stop-color="#3300ff"/><stop offset="0.1804" stop-color="#ff0000"/><stop offset="0.2543" stop-color="#ff0000"/><stop offset="0.2543" stop-color="#ff0000"/><stop offset="0.2833" stop-color="#ff6666"/><stop offset="0.2833" stop-color="#9a80ff"/><stop offset="0.2899" stop-color="#8566ff"/><stop offset="0.2899" stop-color="#8566ff"/><stop offset="0.3056" stop-color="#3300ff"/><stop offset="0.3056" stop-color="#3300ff"/><stop offset="0.3561" stop-color="#3300ff"/><stop offset="0.3561" stop-color="#ff0000"/><stop offset="0.3595" stop-color="#ff0c0c"/><stop offset="0.3595" stop-color="#ff6c6c"/><stop offset="0.3679" stop-color="#ff7878"/><stop offset="0.3679" stop-color="#714dff"/><stop offset="0.3715" stop-color="#9073ff"/><stop offset="0.3715" stop-color="#9073ff"/><stop offset="0.3747" stop-color="#5226ff"/><stop offset="0.3747" stop-color="#481aff"/><stop offset="0.3783" stop-color="#3300ff"/><stop offset="0.3783" stop-color="#000000"/><stop offset="0.3860" stop-color="#000000"/><stop offset="0.3860" stop-color="#ff0000"/><stop offset="0.4050" stop-color="#ff0000"/><stop offset="0.4050" stop-color="#ff0000"/><stop offset="0.4280" stop-color="#ff2424"/><stop offset="0.4280" stop-color="#ff2424"/><stop offset="0.4699" stop-color="#ff4242"/><stop offset="0.4699" stop-color="#ff4242"/><stop offset="0.5536" stop-color="#ff6060"/><stop offset="0.5536" stop-color="#ff6060"/><stop offset="0.6386" stop-color="#ff7878"/><stop offset="0.6386" stop-color="#9a80ff"/><stop offset="0.6792" stop-color="#957aff"/><stop offset="0.6792" stop-color="#957aff"/><stop offset="0.7630" stop-color="#7d5cff"/><stop offset="0.7630" stop-color="#7d5cff"/><stop offset="0.8257" stop-color="#5c33ff"/><stop offset="0.8257" stop-color="#5c33ff"/><stop offset="0.8592" stop-color="#3300ff"/><stop offset="0.8592" stop-color="#3300ff"/><stop offset="0.9639" stop-color="#3300ff"/><stop offset="0.9639" stop-color="#000000"/><stop offset="1.0000" stop-color="#000000"/></linearGradient>
<rect x="1311" y="111.0" width="121" height="955.5" fill="url(#gs)" shape-rendering="crispEdges"/>
<linearGradient id="gf" x1="0" y1="0" x2="0" y2="1"><stop offset="0.0000" stop-color="#ff0000"/><stop offset="0.0136" stop-color="#ff0000"/><stop offset="0.0136" stop-color="#ff0909"/><stop offset="0.0156" stop-color="#ff0909"/><stop offset="0.0162" stop-color="#ff0505"/><stop offset="0.0186" stop-color="#ff0505"/><stop offset="0.0191" stop-color="#ff0909"/><stop offset="0.0200" stop-color="#ff0909"/><stop offset="0.0206" stop-color="#ff0101"/><stop offset="0.0215" stop-color="#ff0101"/><stop offset="0.0220" stop-color="#ff0d0d"/><stop offset="0.0230" stop-color="#ff0d0d"/><stop offset="0.0235" stop-color="#ff0000"/><stop offset="0.0249" stop-color="#ff0000"/><stop offset="0.0254" stop-color="#ff0505"/><stop offset="0.0278" stop-color="#ff0505"/><stop offset="0.0283" stop-color="#ff0000"/><stop offset="0.0297" stop-color="#ff0000"/><stop offset="0.0302" stop-color="#ff0101"/><stop offset="0.0326" stop-color="#ff0101"/><stop offset="0.0331" stop-color="#ff0404"/><stop offset="0.0362" stop-color="#ff0404"/><stop offset="0.0367" stop-color="#ff0f0f"/><stop offset="0.0380" stop-color="#ff0f0f"/><stop offset="0.0386" stop-color="#ff1616"/><stop offset="0.0408" stop-color="#ff1616"/><stop offset="0.0408" stop-color="#ff1212"/><stop offset="0.0441" stop-color="#ff1212"/><stop offset="0.0446" stop-color="#ff2424"/><stop offset="0.0456" stop-color="#ff2424"/><stop offset="0.0461" stop-color="#ff1717"/><stop offset="0.0470" stop-color="#ff1717"/><stop offset="0.0476" stop-color="#ff1010"/><stop offset="0.0489" stop-color="#ff1010"/><stop offset="0.0495" stop-color="#ff1c1c"/><stop offset="0.0508" stop-color="#ff1c1c"/><stop offset="0.0513" stop-color="#ff1818"/><stop offset="0.0544" stop-color="#ff1818"/><stop offset="0.0549" stop-color="#ff1515"/><stop offset="0.0563" stop-color="#ff1515"/><stop offset="0.0568" stop-color="#ff2c2c"/><stop offset="0.0598" stop-color="#ff2c2c"/><stop offset="0.0603" stop-color="#ff1d1d"/><stop offset="0.0621" stop-color="#ff1d1d"/><stop offset="0.0626" stop-color="#ff3131"/><stop offset="0.0638" stop-color="#ff3131"/><stop offset="0.0638" stop-color="#ff2e2e"/><stop offset="0.0671" stop-color="#ff2e2e"/><stop offset="0.0677" stop-color="#ff3c3c"/><stop offset="0.0707" stop-color="#ff3c3c"/><stop offset="0.0712" stop-color="#ff4242"/><stop offset="0.0730" stop-color="#ff4242"/><stop offset="0.0735" stop-color="#ff4242"/><stop offset="0.0759" stop-color="#ff4242"/><stop offset="0.0765" stop-color="#ff5656"/><stop offset="0.0778" stop-color="#ff5656"/><stop offset="0.0783" stop-color="#ff3f3f"/><stop offset="0.0797" stop-color="#ff3f3f"/><stop offset="0.0802" stop-color="#ff5252"/><stop offset="0.0820" stop-color="#ff5252"/><stop offset="0.0825" stop-color="#ff5d5d"/><stop offset="0.0843" stop-color="#ff5d5d"/><stop offset="0.0848" stop-color="#ff5d5d"/><stop offset="0.0866" stop-color="#ff5d5d"/><stop offset="0.0871" stop-color="#ff4e4e"/><stop offset="0.0881" stop-color="#ff4e4e"/><stop offset="0.0886" stop-color="#ff5353"/><stop offset="0.0910" stop-color="#ff5353"/><stop offset="0.0915" stop-color="#ff5757"/><stop offset="0.0933" stop-color="#ff5757"/><stop offset="0.0938" stop-color="#ff6363"/><stop offset="0.0940" stop-color="#ff6363"/><stop offset="0.0940" stop-color="#9a80ff"/><stop offset="0.0952" stop-color="#9a80ff"/><stop offset="0.0957" stop-color="#987eff"/><stop offset="0.0987" stop-color="#987eff"/><stop offset="0.0993" stop-color="#8d6fff"/><stop offset="0.1010" stop-color="#8d6fff"/><stop offset="0.1016" stop-color="#9073ff"/><stop offset="0.1033" stop-color="#9073ff"/><stop offset="0.1039" stop-color="#9276ff"/><stop offset="0.1069" stop-color="#9276ff"/><stop offset="0.1074" stop-color="#9174ff"/><stop offset="0.1084" stop-color="#9174ff"/><stop offset="0.1089" stop-color="#8769ff"/><stop offset="0.1107" stop-color="#8769ff"/><stop offset="0.1112" stop-color="#7d5cff"/><stop offset="0.1121" stop-color="#7d5cff"/><stop offset="0.1127" stop-color="#886aff"/><stop offset="0.1144" stop-color="#886aff"/><stop offset="0.1150" stop-color="#7e5eff"/><stop offset="0.1174" stop-color="#7e5eff"/><stop offset="0.1179" stop-color="#896bff"/><stop offset="0.1193" stop-color="#896bff"/><stop offset="0.1193" stop-color="#6f4aff"/><stop offset="0.1214" stop-color="#6f4aff"/><stop offset="0.1219" stop-color="#7653ff"/><stop offset="0.1243" stop-color="#7653ff"/><stop offset="0.1248" stop-color="#6e49ff"/><stop offset="0.1278" stop-color="#6e49ff"/><stop offset="0.1284" stop-color="#6f4bff"/><stop offset="0.1293" stop-color="#6f4bff"/><stop offset="0.1298" stop-color="#6c47ff"/><stop offset="0.1316" stop-color="#6c47ff"/><stop offset="0.1321" stop-color="#724eff"/><stop offset="0.1335" stop-color="#724eff"/><stop offset="0.1340" stop-color="#6943ff"/><stop offset="0.1364" stop-color="#6943ff"/><stop offset="0.1369" stop-color="#6f4bff"/><stop offset="0.1394" stop-color="#6f4bff"/><stop offset="0.1399" stop-color="#7a58ff"/><stop offset="0.1417" stop-color="#7a58ff"/><stop offset="0.1422" stop-color="#7856ff"/><stop offset="0.1446" stop-color="#7856ff"/><stop offset="0.1451" stop-color="#734fff"/><stop offset="0.1469" stop-color="#734fff"/><stop offset="0.1474" stop-color="#714dff"/><stop offset="0.1492" stop-color="#714dff"/><stop offset="0.1497" stop-color="#7654ff"/><stop offset="0.1521" stop-color="#7654ff"/><stop offset="0.1526" stop-color="#6037ff"/><stop offset="0.1540" stop-color="#6037ff"/><stop offset="0.1545" stop-color="#623bff"/><stop offset="0.1559" stop-color="#623bff"/><stop offset="0.1564" stop-color="#5c33ff"/><stop offset="0.1578" stop-color="#5c33ff"/><stop offset="0.1583" stop-color="#5f36ff"/><stop offset="0.1613" stop-color="#5f36ff"/><stop offset="0.1619" stop-color="#592fff"/><stop offset="0.1636" stop-color="#592fff"/><stop offset="0.1642" stop-color="#653eff"/><stop offset="0.1666" stop-color="#653eff"/><stop offset="0.1671" stop-color="#643dff"/><stop offset="0.1701" stop-color="#643dff"/><stop offset="0.1706" stop-color="#663fff"/><stop offset="0.1720" stop-color="#663fff"/><stop offset="0.1725" stop-color="#6b45ff"/><stop offset="0.1756" stop-color="#6b45ff"/><stop offset="0.1761" stop-color="#5d34ff"/><stop offset="0.1770" stop-color="#5d34ff"/><stop offset="0.1776" stop-color="#5a31ff"/><stop offset="0.1804" stop-color="#5a31ff"/><stop offset="0.1804" stop-color="#ff0000"/><stop offset="0.1905" stop-color="#ff0000"/><stop offset="0.1905" stop-color="#ff0505"/><stop offset="0.1931" stop-color="#ff0505"/><stop offset="0.1937" stop-color="#ff1111"/><stop offset="0.1961" stop-color="#ff1111"/><stop offset="0.1966" stop-color="#ff0808"/><stop offset="0.1975" stop-color="#ff0808"/><stop offset="0.1981" stop-color="#ff1212"/><stop offset="0.1994" stop-color="#ff1212"/><stop offset="0.1999" stop-color="#ff1212"/><stop offset="0.2009" stop-color="#ff1212"/><stop offset="0.2014" stop-color="#ff0e0e"/><stop offset="0.2024" stop-color="#ff0e0e"/><stop offset="0.2029" stop-color="#ff1414"/><stop offset="0.2059" stop-color="#ff1414"/><stop offset="0.2064" stop-color="#ff2f2f"/><stop offset="0.2074" stop-color="#ff2f2f"/><stop offset="0.2079" stop-color="#ff1919"/><stop offset="0.2109" stop-color="#ff1919"/><stop offset="0.2115" stop-color="#ff2e2e"/><stop offset="0.2128" stop-color="#ff2e2e"/><stop offset="0.2133" stop-color="#ff3232"/><stop offset="0.2147" stop-color="#ff3232"/><stop offset="0.2152" stop-color="#ff3535"/><stop offset="0.2170" stop-color="#ff3535"/><stop offset="0.2175" stop-color="#ff2a2a"/><stop offset="0.2187" stop-color="#ff2a2a"/><stop offset="0.2187" stop-color="#ff4b4b"/><stop offset="0.2214" stop-color="#ff4b4b"/><stop offset="0.2219" stop-color="#ff3f3f"/><stop offset="0.2243" stop-color="#ff3f3f"/><stop offset="0.2249" stop-color="#ff3636"/><stop offset="0.2266" stop-color="#ff3636"/><stop offset="0.2272" stop-color="#ff4b4b"/><stop offset="0.2281" stop-color="#ff4b4b"/><stop offset="0.2286" stop-color="#ff4444"/><stop offset="0.2304" stop-color="#ff4444"/><stop offset="0.2309" stop-color="#ff4747"/><stop offset="0.2323" stop-color="#ff4747"/><stop offset="0.2328" stop-color="#ff5555"/><stop offset="0.2342" stop-color="#ff5555"/><stop offset="0.2347" stop-color="#ff4747"/><stop offset="0.2377" stop-color="#ff4747"/><stop offset="0.2383" stop-color="#ff5a5a"/><stop offset="0.2413" stop-color="#ff5a5a"/><stop offset="0.2418" stop-color="#ff4b4b"/><stop offset="0.2448" stop-color="#ff4b4b"/><stop offset="0.2454" stop-color="#ff5858"/><stop offset="0.2463" stop-color="#ff5858"/><stop offset="0.2468" stop-color="#ff5555"/><stop offset="0.2486" stop-color="#ff5555"/><stop offset="0.2491" stop-color="#ff5252"/><stop offset="0.2505" stop-color="#ff5252"/><stop offset="0.2510" stop-color="#ff5959"/><stop offset="0.2524" stop-color="#ff5959"/><stop offset="0.2529" stop-color="#ff5555"/><stop offset="0.2559" stop-color="#ff5555"/><stop offset="0.2565" stop-color="#ff5f5f"/><stop offset="0.2578" stop-color="#ff5f5f"/><stop offset="0.2583" stop-color="#ff6767"/><stop offset="0.2597" stop-color="#ff6767"/><stop offset="0.2602" stop-color="#ff6767"/><stop offset="0.2626" stop-color="#ff6767"/><stop offset="0.2632" stop-color="#ff5959"/><stop offset="0.2645" stop-color="#ff5959"/><stop offset="0.2650" stop-color="#ff6060"/><stop offset="0.2675" stop-color="#ff6060"/><stop offset="0.2680" stop-color="#ff7474"/><stop offset="0.2689" stop-color="#ff7474"/><stop offset="0.2694" stop-color="#ff6666"/><stop offset="0.2712" stop-color="#ff6666"/><stop offset="0.2717" stop-color="#ff6e6e"/><stop offset="0.2731" stop-color="#ff6e6e"/><stop offset="0.2736" stop-color="#ff6969"/><stop offset="0.2754" stop-color="#ff6969"/><stop offset="0.2759" stop-color="#ff7a7a"/><stop offset="0.2777" stop-color="#ff7a7a"/><stop offset="0.2782" stop-color="#ff6262"/><stop offset="0.2800" stop-color="#ff6262"/><stop offset="0.2805" stop-color="#ff6868"/><stop offset="0.2815" stop-color="#ff6868"/><stop offset="0.2820" stop-color="#ff6d6d"/><stop offset="0.2833" stop-color="#ff6d6d"/><stop offset="0.2833" stop-color="#967bff"/><stop offset="0.2860" stop-color="#967bff"/><stop offset="0.2865" stop-color="#997eff"/><stop offset="0.2895" stop-color="#997eff"/><stop offset="0.2901" stop-color="#997fff"/><stop offset="0.2925" stop-color="#997fff"/><stop offset="0.2930" stop-color="#977dff"/><stop offset="0.2948" stop-color="#977dff"/><stop offset="0.2953" stop-color="#987dff"/><stop offset="0.2962" stop-color="#987dff"/><stop offset="0.2968" stop-color="#987eff"/><stop offset="0.2977" stop-color="#987eff"/><stop offset="0.2982" stop-color="#9377ff"/><stop offset="0.2996" stop-color="#9377ff"/><stop offset="0.3001" stop-color="#9276ff"/><stop offset="0.3015" stop-color="#9276ff"/><stop offset="0.3020" stop-color="#8e71ff"/><stop offset="0.3038" stop-color="#8e71ff"/><stop offset="0.3043" stop-color="#9276ff"/><stop offset="0.3067" stop-color="#9276ff"/><stop offset="0.3072" stop-color="#957aff"/><stop offset="0.3082" stop-color="#957aff"/><stop offset="0.3087" stop-color="#987eff"/><stop offset="0.3100" stop-color="#987eff"/><stop offset="0.3106" stop-color="#8e71ff"/><stop offset="0.3115" stop-color="#8e71ff"/><stop offset="0.3120" stop-color="#967bff"/><stop offset="0.3144" stop-color="#967bff"/><stop offset="0.3150" stop-color="#9377ff"/><stop offset="0.3163" stop-color="#9377ff"/><stop offset="0.3168" stop-color="#977dff"/><stop offset="0.3199" stop-color="#977dff"/><stop offset="0.3204" stop-color="#8d70ff"/><stop offset="0.3222" stop-color="#8d70ff"/><stop offset="0.3227" stop-color="#8c6fff"/><stop offset="0.3257" stop-color="#8c6fff"/><stop offset="0.3263" stop-color="#9479ff"/><stop offset="0.3272" stop-color="#9479ff"/><stop offset="0.3277" stop-color="#9174ff"/><stop offset="0.3287" stop-color="#9174ff"/><stop offset="0.3292" stop-color="#8f73ff"/><stop offset="0.3306" stop-color="#8f73ff"/><stop offset="0.3311" stop-color="#9478ff"/><stop offset="0.3324" stop-color="#9478ff"/><stop offset="0.3330" stop-color="#8a6cff"/><stop offset="0.3339" stop-color="#8a6cff"/><stop offset="0.3339" stop-color="#8b6dff"/><stop offset="0.3355" stop-color="#8b6dff"/><stop offset="0.3360" stop-color="#9378ff"/><stop offset="0.3374" stop-color="#9378ff"/><stop offset="0.3379" stop-color="#8769ff"/><stop offset="0.3397" stop-color="#8769ff"/><stop offset="0.3402" stop-color="#9175ff"/><stop offset="0.3426" stop-color="#9175ff"/><stop offset="0.3431" stop-color="#9175ff"/><stop offset="0.3441" stop-color="#9175ff"/><stop offset="0.3446" stop-color="#9073ff"/><stop offset="0.3464" stop-color="#9073ff"/><stop offset="0.3469" stop-color="#8c6fff"/><stop offset="0.3499" stop-color="#8c6fff"/><stop offset="0.3504" stop-color="#8262ff"/><stop offset="0.3535" stop-color="#8262ff"/><stop offset="0.3540" stop-color="#7958ff"/><stop offset="0.3561" stop-color="#7958ff"/><stop offset="0.3561" stop-color="#000000"/><stop offset="0.3786" stop-color="#000000"/><stop offset="0.3786" stop-color="#ff0000"/><stop offset="0.3820" stop-color="#ff2a2a"/><stop offset="0.3820" stop-color="#ff3030"/><stop offset="0.3860" stop-color="#ff8484"/><stop offset="0.3860" stop-color="#000000"/><stop offset="1.0000" stop-color="#000000"/></linearGradient>
<rect x="1432" y="111.0" width="121" height="955.5" fill="url(#gf)" shape-rendering="crispEdges"/>
<linearGradient id="gl" x1="0" y1="0" x2="0" y2="1"><stop offset="0.0000" stop-color="#ff0000"/><stop offset="0.0136" stop-color="#ff0000"/><stop offset="0.0136" stop-color="#ff0c0c"/><stop offset="0.0178" stop-color="#ff2424"/><stop offset="0.0178" stop-color="#ff2626"/><stop offset="0.0194" stop-color="#ff2626"/><stop offset="0.0199" stop-color="#ff3434"/><stop offset="0.0209" stop-color="#ff3434"/><stop offset="0.0214" stop-color="#ff2c2c"/><stop offset="0.0228" stop-color="#ff2c2c"/><stop offset="0.0233" stop-color="#ff1e1e"/><stop offset="0.0246" stop-color="#ff1e1e"/><stop offset="0.0252" stop-color="#ff3030"/><stop offset="0.0276" stop-color="#ff3030"/><stop offset="0.0281" stop-color="#ff3030"/><stop offset="0.0290" stop-color="#ff3030"/><stop offset="0.0296" stop-color="#ff3636"/><stop offset="0.0313" stop-color="#ff3636"/><stop offset="0.0319" stop-color="#ff3434"/><stop offset="0.0349" stop-color="#ff3434"/><stop offset="0.0354" stop-color="#ff4242"/><stop offset="0.0364" stop-color="#ff4242"/><stop offset="0.0369" stop-color="#ff2c2c"/><stop offset="0.0378" stop-color="#ff2c2c"/><stop offset="0.0384" stop-color="#ff2727"/><stop offset="0.0401" stop-color="#ff2727"/><stop offset="0.0407" stop-color="#ff3939"/><stop offset="0.0416" stop-color="#ff3939"/><stop offset="0.0421" stop-color="#ff2a2a"/><stop offset="0.0452" stop-color="#ff2a2a"/><stop offset="0.0457" stop-color="#ff3b3b"/><stop offset="0.0466" stop-color="#ff3b3b"/><stop offset="0.0471" stop-color="#ff5151"/><stop offset="0.0502" stop-color="#ff5151"/><stop offset="0.0507" stop-color="#ff4242"/><stop offset="0.0513" stop-color="#ff4242"/><stop offset="0.0513" stop-color="#ff3b3b"/><stop offset="0.0533" stop-color="#ff3b3b"/><stop offset="0.0538" stop-color="#ff4a4a"/><stop offset="0.0569" stop-color="#ff4a4a"/><stop offset="0.0574" stop-color="#ff5151"/><stop offset="0.0604" stop-color="#ff5151"/><stop offset="0.0610" stop-color="#ff5151"/><stop offset="0.0640" stop-color="#ff5151"/><stop offset="0.0645" stop-color="#ff5555"/><stop offset="0.0663" stop-color="#ff5555"/><stop offset="0.0668" stop-color="#ff5454"/><stop offset="0.0682" stop-color="#ff5454"/><stop offset="0.0687" stop-color="#ff4646"/><stop offset="0.0701" stop-color="#ff4646"/><stop offset="0.0706" stop-color="#ff4848"/><stop offset="0.0730" stop-color="#ff4848"/><stop offset="0.0735" stop-color="#ff5252"/><stop offset="0.0745" stop-color="#ff5252"/><stop offset="0.0750" stop-color="#ff3e3e"/><stop offset="0.0774" stop-color="#ff3e3e"/><stop offset="0.0779" stop-color="#ff5a5a"/><stop offset="0.0797" stop-color="#ff5a5a"/><stop offset="0.0802" stop-color="#ff6161"/><stop offset="0.0816" stop-color="#ff6161"/><stop offset="0.0821" stop-color="#ff4545"/><stop offset="0.0839" stop-color="#ff4545"/><stop offset="0.0844" stop-color="#ff6565"/><stop offset="0.0858" stop-color="#ff6565"/><stop offset="0.0863" stop-color="#ff5e5e"/><stop offset="0.0877" stop-color="#ff5e5e"/><stop offset="0.0882" stop-color="#ff5353"/><stop offset="0.0891" stop-color="#ff5353"/><stop offset="0.0896" stop-color="#ff4c4c"/><stop offset="0.0920" stop-color="#ff4c4c"/><stop offset="0.0926" stop-color="#ff4d4d"/><stop offset="0.0940" stop-color="#ff4d4d"/><stop offset="0.0940" stop-color="#9e86ff"/><stop offset="0.0967" stop-color="#9e86ff"/><stop offset="0.0972" stop-color="#9073ff"/><stop offset="0.0996" stop-color="#9073ff"/><stop offset="0.1001" stop-color="#8f73ff"/><stop offset="0.1015" stop-color="#8f73ff"/><stop offset="0.1020" stop-color="#967bff"/><stop offset="0.1029" stop-color="#967bff"/><stop offset="0.1035" stop-color="#8e71ff"/><stop offset="0.1044" stop-color="#8e71ff"/><stop offset="0.1049" stop-color="#8f72ff"/><stop offset="0.1073" stop-color="#8f72ff"/><stop offset="0.1078" stop-color="#8d70ff"/><stop offset="0.1088" stop-color="#8d70ff"/><stop offset="0.1093" stop-color="#9175ff"/><stop offset="0.1123" stop-color="#9175ff"/><stop offset="0.1129" stop-color="#977cff"/><stop offset="0.1159" stop-color="#977cff"/><stop offset="0.1164" stop-color="#967bff"/><stop offset="0.1174" stop-color="#967bff"/><stop offset="0.1179" stop-color="#957aff"/><stop offset="0.1193" stop-color="#957aff"/><stop offset="0.1198" stop-color="#8263ff"/><stop offset="0.1207" stop-color="#8263ff"/><stop offset="0.1212" stop-color="#8161ff"/><stop offset="0.1230" stop-color="#8161ff"/><stop offset="0.1235" stop-color="#8566ff"/><stop offset="0.1249" stop-color="#8566ff"/><stop offset="0.1254" stop-color="#8f73ff"/><stop offset="0.1268" stop-color="#8f73ff"/><stop offset="0.1273" stop-color="#8667ff"/><stop offset="0.1291" stop-color="#8667ff"/><stop offset="0.1296" stop-color="#8f73ff"/><stop offset="0.1327" stop-color="#8f73ff"/><stop offset="0.1332" stop-color="#8667ff"/><stop offset="0.1350" stop-color="#8667ff"/><stop offset="0.1350" stop-color="#7b59ff"/><stop offset="0.1370" stop-color="#7b59ff"/><stop offset="0.1376" stop-color="#8b6eff"/><stop offset="0.1385" stop-color="#8b6eff"/><stop offset="0.1390" stop-color="#8161ff"/><stop offset="0.1404" stop-color="#8161ff"/><stop offset="0.1409" stop-color="#7d5cff"/><stop offset="0.1419" stop-color="#7d5cff"/><stop offset="0.1424" stop-color="#8566ff"/><stop offset="0.1433" stop-color="#8566ff"/><stop offset="0.1439" stop-color="#7754ff"/><stop offset="0.1456" stop-color="#7754ff"/><stop offset="0.1462" stop-color="#7552ff"/><stop offset="0.1475" stop-color="#7552ff"/><stop offset="0.1480" stop-color="#7e5dff"/><stop offset="0.1490" stop-color="#7e5dff"/><stop offset="0.1495" stop-color="#8b6dff"/><stop offset="0.1513" stop-color="#8b6dff"/><stop offset="0.1518" stop-color="#8869ff"/><stop offset="0.1542" stop-color="#8869ff"/><stop offset="0.1547" stop-color="#7f5fff"/><stop offset="0.1565" stop-color="#7f5fff"/><stop offset="0.1570" stop-color="#7c5bff"/><stop offset="0.1580" stop-color="#7c5bff"/><stop offset="0.1585" stop-color="#8566ff"/><stop offset="0.1599" stop-color="#8566ff"/><stop offset="0.1604" stop-color="#7450ff"/><stop offset="0.1617" stop-color="#7450ff"/><stop offset="0.1623" stop-color="#714dff"/><stop offset="0.1636" stop-color="#714dff"/><stop offset="0.1642" stop-color="#7b59ff"/><stop offset="0.1659" stop-color="#7b59ff"/><stop offset="0.1665" stop-color="#7d5cff"/><stop offset="0.1695" stop-color="#7d5cff"/><stop offset="0.1700" stop-color="#7450ff"/><stop offset="0.1718" stop-color="#7450ff"/><stop offset="0.1723" stop-color="#6e4aff"/><stop offset="0.1737" stop-color="#6e4aff"/><stop offset="0.1742" stop-color="#805fff"/><stop offset="0.1751" stop-color="#805fff"/><stop offset="0.1757" stop-color="#6740ff"/><stop offset="0.1766" stop-color="#6740ff"/><stop offset="0.1771" stop-color="#734fff"/><stop offset="0.1802" stop-color="#734fff"/><stop offset="0.1804" stop-color="#000000"/><stop offset="0.3561" stop-color="#000000"/><stop offset="0.3561" stop-color="#ff5454"/><stop offset="0.3673" stop-color="#ff6060"/><stop offset="0.3673" stop-color="#a080f0"/><stop offset="0.3747" stop-color="#a080f0"/><stop offset="0.3747" stop-color="#ff0000"/><stop offset="0.3830" stop-color="#ff2a2a"/><stop offset="0.3830" stop-color="#ff7878"/><stop offset="0.3860" stop-color="#ff8484"/><stop offset="0.3860" stop-color="#000000"/><stop offset="0.9639" stop-color="#000000"/><stop offset="0.9639" stop-color="#ff0000"/><stop offset="0.9681" stop-color="#ff1212"/><stop offset="0.9681" stop-color="#ff1212"/><stop offset="0.9827" stop-color="#ff6060"/><stop offset="0.9827" stop-color="#ff6060"/><stop offset="0.9937" stop-color="#ff7878"/><stop offset="0.9937" stop-color="#9a80ff"/><stop offset="1.0000" stop-color="#957aff"/></linearGradient>
<rect x="1553" y="111.0" width="122" height="955.5" fill="url(#gl)" shape-rendering="crispEdges"/>
<linearGradient id="cb" x1="0" y1="0" x2="1" y2="0"><stop offset="0" stop-color="#2c3ea6"/><stop offset="0.14" stop-color="#3239a0"/><stop offset="0.3" stop-color="#777cc4"/><stop offset="0.5" stop-color="#ffffff"/><stop offset="0.7" stop-color="#f29a9a"/><stop offset="0.86" stop-color="#e03a3a"/><stop offset="1" stop-color="#d42020"/></linearGradient>
<linearGradient id="cbv" x1="0" y1="0" x2="0" y2="1"><stop offset="0" stop-color="#666" stop-opacity="0.45"/><stop offset="0.16" stop-color="#666" stop-opacity="0"/><stop offset="0.84" stop-color="#666" stop-opacity="0"/><stop offset="1" stop-color="#666" stop-opacity="0.45"/></linearGradient>
<rect x="1310.6" y="1134.3" width="367.4" height="21.5" fill="url(#cb)"/>
<rect x="1310.6" y="1134.3" width="367.4" height="21.5" fill="url(#cbv)"/>
<line x1="1493.0" y1="1135.0" x2="1493.0" y2="1155.4" stroke="#c8c8c8" stroke-width="1.2" stroke-linecap="butt"/>
<text x="1493.5" y="1114.5" font-size="29.3" text-anchor="middle">FC ≥ 2.0, <tspan font-style="italic">P</tspan> &lt; 0.05</text>
<text transform="translate(1310.0 1190.3) scale(1 1.05)" font-size="29" text-anchor="middle">-4</text>
<text transform="translate(1491.3 1190.3) scale(1 1.05)" font-size="29" text-anchor="middle">0</text>
<text transform="translate(1670.0 1190.3) scale(1 1.05)" font-size="29" text-anchor="middle">4</text>
<text x="349.8" y="1344.1" font-size="29.2" text-anchor="middle">Molecular Mechanisms of Cancer</text>
<text x="318.8" y="1430.0" font-size="29" text-anchor="middle">-log (<tspan font-style="italic">P</tspan>-value) vs Healthy</text>
<text x="103.2" y="1498.2" font-size="29" text-anchor="middle" font-weight="bold">Sham</text>
<text x="268.4" y="1498.2" font-size="29" text-anchor="middle" font-weight="bold">Follow-up</text>
<text x="481.6" y="1498.2" font-size="29.2" text-anchor="middle" font-weight="bold">Long-term</text>
<text transform="translate(103.0 1552.0) scale(1 1.05)" font-size="29" text-anchor="middle">19.67</text>
<text transform="translate(268.3 1552.0) scale(1 1.05)" font-size="29" text-anchor="middle">5.73</text>
<text transform="translate(481.2 1552.0) scale(1 1.05)" font-size="29" text-anchor="middle">2.82</text>
<rect x="753.9" y="1343.4" width="21.2" height="322.0" fill="#000"/>
<rect x="779.2" y="1502.0" width="20.8" height="163.4" fill="#ff0000"/>
<path d="M801.8,1665.4 V1580.8 H820.9 V1665.4" fill="#fff" stroke="#ec1010" stroke-width="3.7" stroke-linejoin="round"/>
<rect x="841.6" y="1389.2" width="21.1" height="276.2" fill="#000"/>
<rect x="866.6" y="1527.1" width="21.4" height="138.3" fill="#ff0000"/>
<path d="M891.9,1665.4 V1614.2 H912.5 V1665.4" fill="#fff" stroke="#ec1010" stroke-width="3.7" stroke-linejoin="round"/>
<rect x="933.1" y="1519.0" width="17.2" height="146.4" fill="#000"/>
<rect x="954.2" y="1585.5" width="21.1" height="79.9" fill="#ff0000"/>
<path d="M979.2,1665.4 V1622.8 H1000.1 V1665.4" fill="#fff" stroke="#ec1010" stroke-width="3.7" stroke-linejoin="round"/>
<rect x="1021.0" y="1519.0" width="20.8" height="146.4" fill="#000"/>
<rect x="1046.0" y="1606.0" width="20.8" height="59.4" fill="#ff0000"/>
<path d="M1071.2,1665.4 V1627.2 H1087.7 V1665.4" fill="#fff" stroke="#ec1010" stroke-width="3.7" stroke-linejoin="round"/>
<rect x="1108.3" y="1535.2" width="21.1" height="130.2" fill="#000"/>
<rect x="1133.6" y="1585.5" width="20.8" height="79.9" fill="#ff0000"/>
<path d="M1158.8,1665.4 V1631.4 H1178.8 V1665.4" fill="#fff" stroke="#ec1010" stroke-width="3.7" stroke-linejoin="round"/>
<rect x="1200.1" y="1548.2" width="21.1" height="117.2" fill="#000"/>
<rect x="1225.4" y="1610.5" width="16.5" height="54.9" fill="#ff0000"/>
<path d="M1246.3,1665.4 V1648.3 H1266.7 V1665.4" fill="#fff" stroke="#ec1010" stroke-width="3.7" stroke-linejoin="round"/>
<rect x="1287.7" y="1548.2" width="21.1" height="117.2" fill="#000"/>
<rect x="1312.7" y="1610.5" width="21.0" height="54.9" fill="#ff0000"/>
<path d="M1337.8,1665.4 V1640.2 H1358.2 V1665.4" fill="#fff" stroke="#ec1010" stroke-width="3.7" stroke-linejoin="round"/>
<rect x="1375.3" y="1560.5" width="21.1" height="104.9" fill="#000"/>
<rect x="1400.3" y="1606.3" width="20.7" height="59.1" fill="#ff0000"/>
<path d="M1425.1,1665.4 V1623.0 H1445.8 V1665.4" fill="#fff" stroke="#ec1010" stroke-width="3.7" stroke-linejoin="round"/>
<rect x="1466.8" y="1568.7" width="21.1" height="96.7" fill="#000"/>
<rect x="1491.8" y="1610.5" width="20.7" height="54.9" fill="#ff0000"/>
<path d="M1516.6,1665.4 V1640.2 H1533.4 V1665.4" fill="#fff" stroke="#ec1010" stroke-width="3.7" stroke-linejoin="round"/>
<rect x="1554.4" y="1573.2" width="20.8" height="92.2" fill="#000"/>
<rect x="1579.4" y="1618.6" width="20.7" height="46.8" fill="#ff0000"/>
<path d="M1604.2,1665.4 V1644.1 H1624.9 V1665.4" fill="#fff" stroke="#ec1010" stroke-width="3.7" stroke-linejoin="round"/>
<rect x="1646.2" y="1581.3" width="16.6" height="84.1" fill="#000"/>
<rect x="1667.0" y="1627.1" width="20.7" height="38.3" fill="#ff0000"/>
<path d="M1691.8,1665.4 V1644.1 H1712.5 V1665.4" fill="#fff" stroke="#ec1010" stroke-width="3.7" stroke-linejoin="round"/>
<line x1="743.3" y1="1321.1" x2="743.3" y2="1674.0" stroke="#000" stroke-width="4.3" stroke-linecap="butt"/>
<line x1="734.5" y1="1665.4" x2="1726.0" y2="1665.4" stroke="#000" stroke-width="4.3" stroke-linecap="butt"/>
<line x1="734.5" y1="1323.2" x2="743.3" y2="1323.2" stroke="#000" stroke-width="4.2" stroke-linecap="butt"/>
<text transform="translate(718.3 1336.0) scale(1 1.05)" font-size="29" text-anchor="end">40</text>
<line x1="734.5" y1="1410.3" x2="743.3" y2="1410.3" stroke="#000" stroke-width="4.2" stroke-linecap="butt"/>
<text transform="translate(718.3 1421.0) scale(1 1.05)" font-size="29" text-anchor="end">30</text>
<line x1="734.5" y1="1493.5" x2="743.3" y2="1493.5" stroke="#000" stroke-width="4.2" stroke-linecap="butt"/>
<text transform="translate(718.3 1506.0) scale(1 1.05)" font-size="29" text-anchor="end">20</text>
<line x1="734.5" y1="1581.1" x2="743.3" y2="1581.1" stroke="#000" stroke-width="4.2" stroke-linecap="butt"/>
<text transform="translate(718.3 1592.0) scale(1 1.05)" font-size="29" text-anchor="end">10</text>
<text transform="translate(718.3 1678.0) scale(1 1.05)" font-size="29" text-anchor="end">0</text>
<line x1="833.2" y1="1665.4" x2="833.2" y2="1674.0" stroke="#000" stroke-width="4.0" stroke-linecap="butt"/>
<line x1="920.9" y1="1665.4" x2="920.9" y2="1674.0" stroke="#000" stroke-width="4.0" stroke-linecap="butt"/>
<line x1="1012.3" y1="1665.4" x2="1012.3" y2="1674.0" stroke="#000" stroke-width="4.0" stroke-linecap="butt"/>
<line x1="1100.0" y1="1665.4" x2="1100.0" y2="1674.0" stroke="#000" stroke-width="4.0" stroke-linecap="butt"/>
<line x1="1187.1" y1="1665.4" x2="1187.1" y2="1674.0" stroke="#000" stroke-width="4.0" stroke-linecap="butt"/>
<line x1="1278.9" y1="1665.4" x2="1278.9" y2="1674.0" stroke="#000" stroke-width="4.0" stroke-linecap="butt"/>
<line x1="1366.5" y1="1665.4" x2="1366.5" y2="1674.0" stroke="#000" stroke-width="4.0" stroke-linecap="butt"/>
<line x1="1454.1" y1="1665.4" x2="1454.1" y2="1674.0" stroke="#000" stroke-width="4.0" stroke-linecap="butt"/>
<line x1="1545.6" y1="1665.4" x2="1545.6" y2="1674.0" stroke="#000" stroke-width="4.0" stroke-linecap="butt"/>
<line x1="1633.2" y1="1665.4" x2="1633.2" y2="1674.0" stroke="#000" stroke-width="4.0" stroke-linecap="butt"/>
<line x1="1723.6" y1="1665.4" x2="1723.6" y2="1674.0" stroke="#000" stroke-width="4.0" stroke-linecap="butt"/>
<text x="659.0" y="1487.0" font-size="29" text-anchor="middle" transform="rotate(-90 659.0 1487.0)">Fold Change</text>
<rect x="1078.5" y="1391.8" width="14.5" height="14.5" fill="#000"/>
<text x="1098.5" y="1411.8" font-size="29" text-anchor="start">Sham</text>
<rect x="1236.4" y="1391.8" width="14.5" height="14.5" fill="#ff0000"/>
<text x="1256.5" y="1411.8" font-size="29" text-anchor="start">Follow-up</text>
<rect x="1444.7" y="1392" width="13.4" height="13.8" fill="#fff" stroke="#ec1010" stroke-width="4.8" stroke-linejoin="round"/>
<text x="1463.3" y="1411.8" font-size="29" text-anchor="start">Long-term</text>
<text transform="translate(796.2 1703.6) rotate(-45) scale(1 1.05)" font-size="29" text-anchor="end">CDK1</text>
<text transform="translate(885.1 1703.6) rotate(-45) scale(1 1.05)" font-size="29" text-anchor="end">E2F8</text>
<text transform="translate(974.0 1703.6) rotate(-45) scale(1 1.05)" font-size="29" text-anchor="end">CCNE2</text>
<text transform="translate(1062.9 1703.6) rotate(-45) scale(1 1.05)" font-size="29" text-anchor="end">E2F7</text>
<text transform="translate(1151.8 1703.6) rotate(-45) scale(1 1.05)" font-size="29" text-anchor="end">RAPGEF3</text>
<text transform="translate(1240.7 1703.6) rotate(-45) scale(1 1.05)" font-size="29" text-anchor="end">CASP3</text>
<text transform="translate(1329.6 1703.6) rotate(-45) scale(1 1.05)" font-size="29" text-anchor="end">AURKA</text>
<text transform="translate(1418.5 1703.6) rotate(-45) scale(1 1.05)" font-size="29" text-anchor="end">NFKBIE</text>
<text transform="translate(1507.4 1703.6) rotate(-45) scale(1 1.05)" font-size="29" text-anchor="end">ITGA3</text>
<text transform="translate(1596.3 1703.6) rotate(-45) scale(1 1.05)" font-size="29" text-anchor="end">NFKB2</text>
<text transform="translate(1685.2 1703.6) rotate(-45) scale(1 1.05)" font-size="29" text-anchor="end">BRCA1</text>
</svg>
</body>
</html>
